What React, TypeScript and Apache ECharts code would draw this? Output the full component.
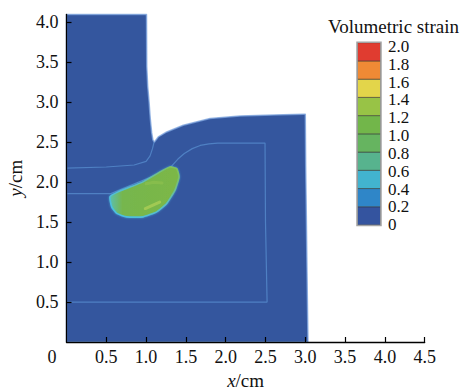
import React, { useEffect, useRef } from "react";
import * as echarts from "echarts";

const FONT = "Liberation Serif";
const INK = "#111111";

// axis ticks
const xTicks = [0, 0.5, 1, 1.5, 2, 2.5, 3, 3.5, 4, 4.5];
const yTicks = [0.5, 1, 1.5, 2, 2.5, 3, 3.5, 4];

// colour scale: band edges and band colours (bottom to top)
const legendTicks = [0, 0.2, 0.4, 0.6, 0.8, 1.0, 1.2, 1.4, 1.6, 1.8, 2.0];
const bandColors = [
  "#34549f",
  "#2f86c8",
  "#42b3cf",
  "#57b38e",
  "#66b460",
  "#72b64a",
  "#98c346",
  "#e3d54a",
  "#ef8a35",
  "#e03c30",
];

// outline of the deformed model (x, y in cm)
const modelOutline: [number, number][] = [
  [0, 0],
  [0, 4.1],
  [1.005, 4.1],
  [1.008, 3.45],
  [1.02, 3.2],
  [1.036, 3.02],
  [1.052, 2.8],
  [1.07, 2.62],
  [1.085, 2.53],
  [1.103, 2.5],
  [1.153, 2.566],
  [1.259, 2.629],
  [1.467, 2.713],
  [1.803, 2.796],
  [2.18, 2.829],
  [2.6, 2.842],
  [2.975, 2.85],
  [3.0, 2.85],
  [3.005, 2.2],
  [3.015, 1.4],
  [3.025, 0.6],
  [3.034, 0],
];

// material interfaces inside the model
const outerInterface: [number, number][] = [
  [0, 2.175],
  [0.5, 2.19],
  [0.85, 2.215],
  [1.0, 2.26],
  [1.05, 2.33],
  [1.08, 2.42],
  [1.1, 2.5],
];
const innerInterface: [number, number][] = [
  [0, 1.856],
  [0.55, 1.856],
  [0.9, 2.0],
  [1.2, 2.12],
  [1.32, 2.2],
  [1.4, 2.29],
  [1.48, 2.36],
  [1.58, 2.42],
  [1.68, 2.46],
  [1.79, 2.48],
  [1.9, 2.49],
  [2.494, 2.49],
  [2.5, 1.5],
  [2.52, 0.5],
  [0, 0.5],
];

// zone of high volumetric strain
const strainZone: [number, number][] = [
  [0.546, 1.816],
  [0.647, 1.879],
  [0.961, 2.004],
  [1.175, 2.129],
  [1.3, 2.191],
  [1.384, 2.171],
  [1.413, 2.066],
  [1.363, 1.9],
  [1.259, 1.734],
  [1.133, 1.629],
  [0.961, 1.566],
  [0.756, 1.566],
  [0.631, 1.609],
  [0.568, 1.691],
];
const strainPeakA: [number, number][] = [
  [0.99, 1.67],
  [1.08, 1.71],
  [1.17, 1.75],
];
const strainPeakB: [number, number][] = [
  [1.0, 1.98],
  [1.1, 2.0],
  [1.2, 1.99],
];

function polygonSeries(pts: [number, number][], style: any, z: number, smooth = 0) {
  return {
    type: "custom",
    xAxisIndex: 0,
    yAxisIndex: 0,
    z,
    silent: true,
    clip: false,
    data: [[pts[0][0], pts[0][1]]],
    renderItem: (_p: any, api: any) => ({
      type: "polygon",
      shape: { points: pts.map((p) => api.coord(p)), smooth },
      style,
    }),
  };
}

function lineSeries(pts: [number, number][], color: string, width: number, z: number, extra: any = {}) {
  return {
    type: "line",
    xAxisIndex: 0,
    yAxisIndex: 0,
    z,
    silent: true,
    symbol: "none",
    data: pts,
    lineStyle: { color, width, ...extra },
  };
}

export default function App() {
  const ref = useRef<HTMLDivElement>(null);

  useEffect(() => {
    if (!ref.current) return;
    const chart = echarts.init(ref.current, null, { renderer: "svg" });

    const labelStyle = { fontFamily: FONT, fontSize: 18, color: INK };

    const option: any = {
      animation: false,
      backgroundColor: "#ffffff",
      graphic: [
        {
          type: "text",
          x: 393.5,
          y: 26,
          silent: true,
          style: {
            text: "Volumetric strain",
            fontFamily: FONT,
            fontSize: 19,
            fill: INK,
            textAlign: "center",
            textVerticalAlign: "middle",
          },
        },
      ],
      grid: [
        { left: 66.5, right: 38.3, top: 14.4, bottom: 48, containLabel: false, outerBoundsMode: "none" },
        { left: 357.5, top: 42.7, width: 23, height: 182.3, containLabel: false, outerBoundsMode: "none" },
        { left: 381, top: 46.5, width: 1, height: 178.2, containLabel: false, outerBoundsMode: "none" },
      ],
      xAxis: [
        {
          type: "value",
          gridIndex: 0,
          min: 0,
          max: 4.5,
          interval: 0.5,
          z: 10,
          name: "{i|x}/cm",
          nameLocation: "middle",
          nameGap: 22,
          nameTextStyle: {
            fontFamily: FONT,
            fontSize: 19,
            color: INK,
            rich: { i: { fontFamily: FONT, fontSize: 19, fontStyle: "italic", color: INK } },
          },
          axisLine: { show: true, onZero: false, lineStyle: { color: "#000", width: 1.3 } },
          axisTick: { show: true, inside: true, length: 5, customValues: xTicks.slice(1), lineStyle: { color: "#000", width: 1.2 } },
          axisLabel: {
            ...labelStyle,
            margin: 6,
            customValues: xTicks,
            formatter: (v: number) => (v === 0 ? "{o|0}" : v.toFixed(1)),
            rich: { o: { ...labelStyle, padding: [0, 29, 0, 0] } },
          },
          splitLine: { show: false },
        },
        { type: "value", gridIndex: 1, min: 0, max: 1, show: false },
        { type: "value", gridIndex: 2, min: 0, max: 1, show: false },
      ],
      yAxis: [
        {
          type: "value",
          gridIndex: 0,
          min: 0,
          max: 4.1,
          z: 10,
          name: "{i|y}/cm",
          nameLocation: "middle",
          nameGap: 34,
          nameTextStyle: {
            fontFamily: FONT,
            fontSize: 19,
            color: INK,
            rich: { i: { fontFamily: FONT, fontSize: 19, fontStyle: "italic", color: INK } },
          },
          axisLine: { show: true, onZero: false, lineStyle: { color: "#000", width: 1.3 } },
          axisTick: { show: true, inside: true, length: 5, customValues: yTicks, lineStyle: { color: "#000", width: 1.2 } },
          axisLabel: { ...labelStyle, margin: 8, customValues: yTicks, formatter: (v: number) => v.toFixed(1) },
          splitLine: { show: false },
        },
        { type: "value", gridIndex: 1, min: 0, max: 2, show: false },
        {
          type: "value",
          gridIndex: 2,
          min: 0,
          max: 2,
          interval: 0.2,
          position: "right",
          axisLine: { show: false },
          axisTick: { show: false },
          splitLine: { show: false },
          axisLabel: {
            fontFamily: FONT,
            fontSize: 17,
            lineHeight: 17,
            color: INK,
            margin: 6,
            formatter: (v: number) => (Math.abs(v) < 1e-9 ? "0" : v.toFixed(1)),
          },
        },
      ],
      series: [
        polygonSeries(
          modelOutline,
          { fill: "#34569e", stroke: "rgba(120,160,220,0.75)", lineWidth: 1.5, lineJoin: "round" },
          1
        ),
        lineSeries(outerInterface, "#4f80c3", 1.2, 2),
        lineSeries(innerInterface, "#4f80c3", 1.2, 2),
        polygonSeries(
          strainZone,
          {
            fill: new echarts.graphic.LinearGradient(0, 0, 1, 0, [
              { offset: 0, color: "#5cbfae" },
              { offset: 0.18, color: "#76b64e" },
              { offset: 1, color: "#7cb746" },
            ]),
            stroke: new echarts.graphic.LinearGradient(0, 1, 1, 0, [
              { offset: 0, color: "#48c0e6" },
              { offset: 0.55, color: "#5cbcc4" },
              { offset: 1, color: "#86c24e" },
            ]),
            lineWidth: 1.6,
            shadowBlur: 2,
            shadowColor: "rgba(80,200,235,0.6)",
          },
          3,
          0.15
        ),
        lineSeries(strainPeakA, "#a8cc55", 3, 4, { opacity: 0.85, cap: "round" }),
        lineSeries(strainPeakB, "#93c44f", 3, 4, { opacity: 0.5, cap: "round" }),
        // colour bar bands
        {
          type: "custom",
          xAxisIndex: 1,
          yAxisIndex: 1,
          silent: true,
          z: 2,
          data: bandColors.map((_, i) => [legendTicks[i], legendTicks[i + 1]]),
          renderItem: (p: any, api: any) => {
            const lo = api.value(0);
            const hi = api.value(1);
            const a = api.coord([0, hi]);
            const b = api.coord([1, lo]);
            return {
              type: "rect",
              shape: { x: a[0], y: a[1], width: b[0] - a[0], height: b[1] - a[1] },
              style: { fill: bandColors[p.dataIndex], stroke: "rgba(50,50,50,0.55)", lineWidth: 1 },
            };
          },
        },
        // colour bar frame
        {
          type: "custom",
          xAxisIndex: 1,
          yAxisIndex: 1,
          silent: true,
          z: 3,
          data: [[0, 0]],
          renderItem: (_p: any, api: any) => {
            const a = api.coord([0, legendTicks[legendTicks.length - 1]]);
            const b = api.coord([1, legendTicks[0]]);
            return {
              type: "rect",
              shape: { x: a[0] - 0.5, y: a[1] - 0.5, width: b[0] - a[0] + 1, height: b[1] - a[1] + 1 },
              style: { fill: "none", stroke: "#a3a3a3", lineWidth: 1.5 },
            };
          },
        },
      ],
    };

    chart.setOption(option);
    return () => chart.dispose();
  }, []);

  return <div ref={ref} style={{ width: 463, height: 390, position: "absolute", left: 0, top: 0 }} />;
}
